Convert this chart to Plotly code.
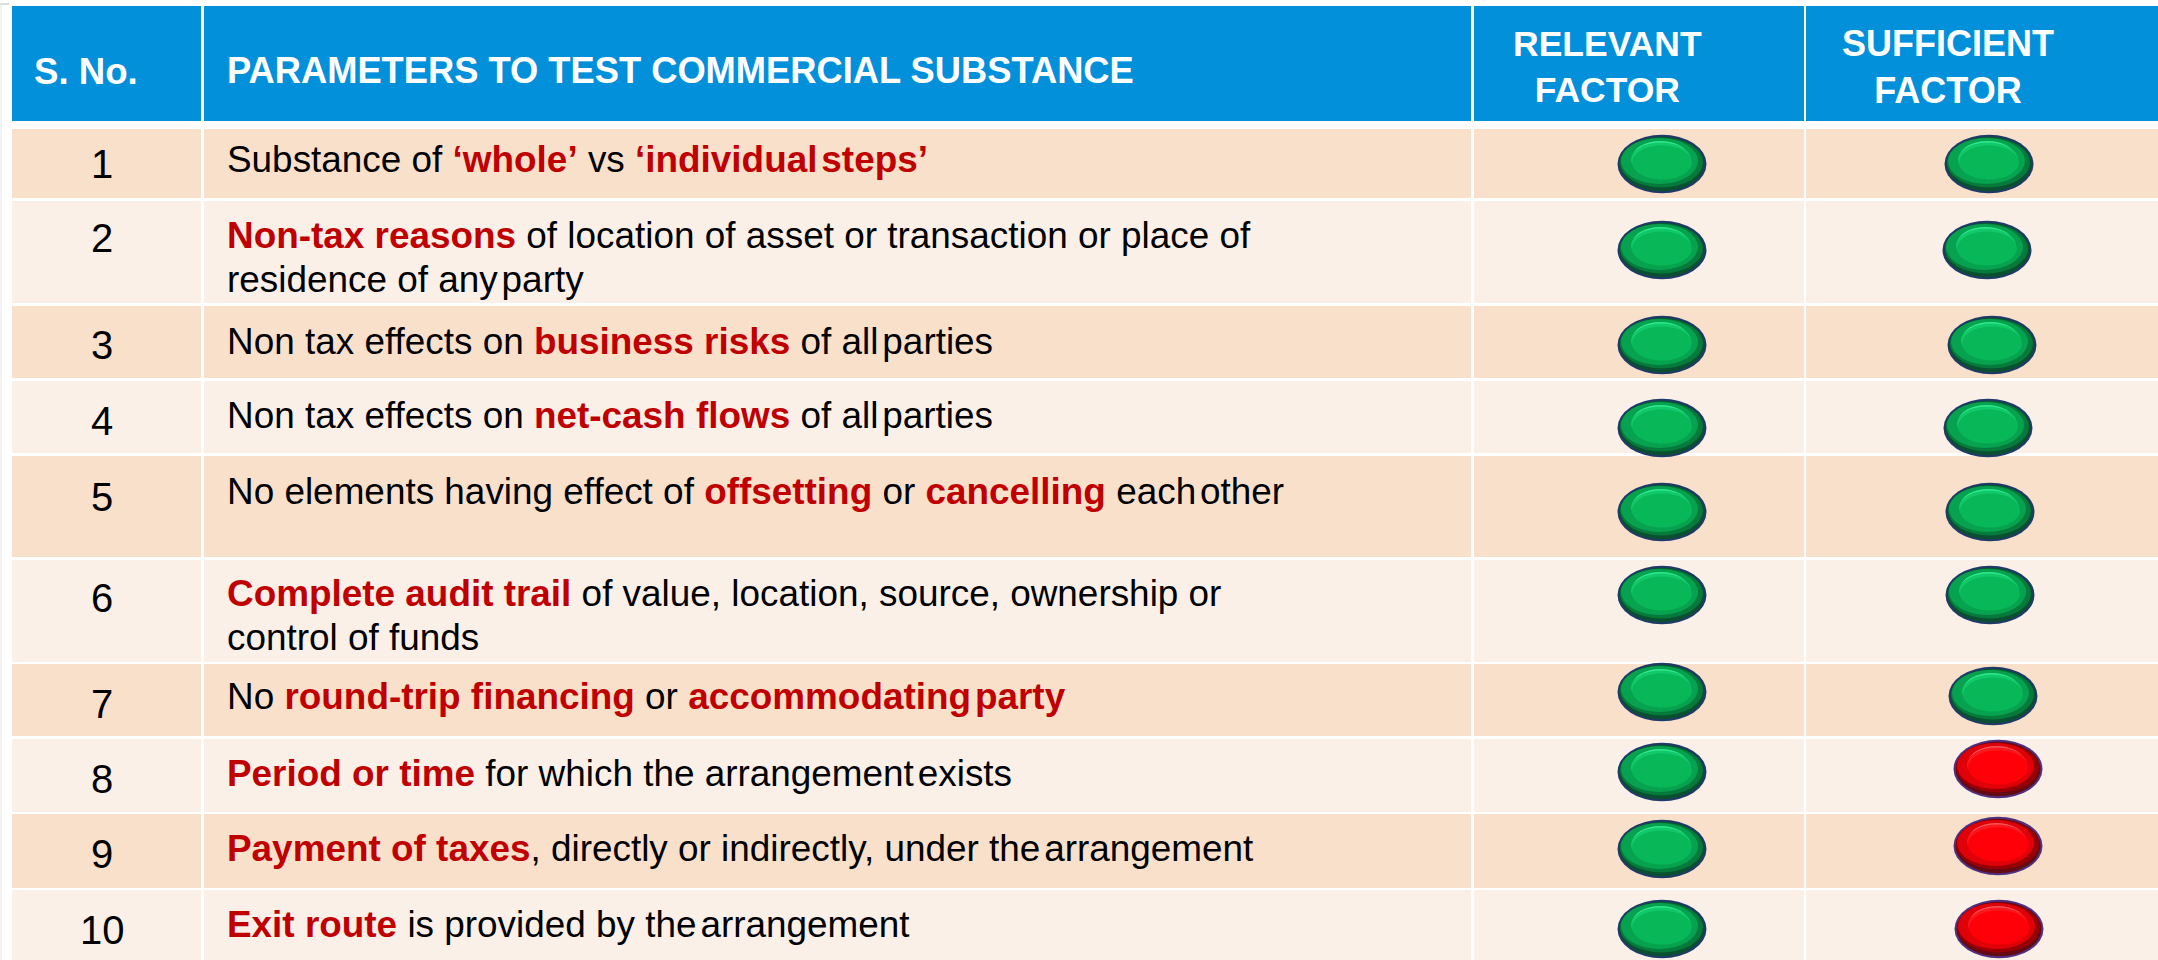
import plotly.graph_objects as go

# ---- table content ----
HEADERS = ["S. No.", "PARAMETERS TO TEST COMMERCIAL SUBSTANCE", "RELEVANT<br>FACTOR", "SUFFICIENT<br>FACTOR"]
S_NO = ["1", "2", "3", "4", "5", "6", "7", "8", "9", "10"]
R = "<b><span style='color:#C00000'>%s</span></b>"
NS = "<span style='font-size:14px'> </span>"   # the reference's tight word gaps
PARAMETERS = [
    "Substance of " + R % ("‘whole’") + " vs " + "<b><span style='color:#C00000'>‘individual</span></b>" + NS + R % "steps’",
    R % "Non-tax reasons" + " of location of asset or transaction or place of<br>residence of any" + NS + "party",
    "Non tax effects on " + R % "business risks" + " of all" + NS + "parties",
    "Non tax effects on " + R % "net-cash flows" + " of all" + NS + "parties",
    "No elements having effect of " + R % "offsetting" + " or " + R % "cancelling" + " each" + NS + "other",
    R % "Complete audit trail" + " of value, location, source, ownership or<br>control of funds",
    "No " + R % "round-trip financing" + " or " + R % "accommodating" + NS + R % "party",
    R % "Period or time" + " for which the arrangement" + NS + "exists",
    R % "Payment of taxes" + ", directly or indirectly, under the" + NS + "arrangement",
    R % "Exit route" + " is provided by the" + NS + "arrangement",
]
RELEVANT = ["yes"] * 10
SUFFICIENT = ["yes"] * 7 + ["no"] * 3

# ---- layout geometry (pixels of the 2158x960 page) ----
COLS = [(12, 201), (204, 1471), (1474, 1804), (1806, 2158)]
HEAD = (6, 121)
ROWS = [(129, 198), (201, 303), (306, 378), (381, 453), (456, 557), (560, 662),
        (664, 736), (739, 812), (814, 888), (890, 960)]
NO_Y = [164, 238, 345, 421, 497, 598, 704, 779, 854, 930]
TEXT_Y = [[159], [235, 279], [341], [415], [491], [593, 637], [696], [773], [848], [924]]
REL_X = [1662] * 10
REL_Y = [164, 250, 345, 428, 512, 595, 692, 772, 849, 929]
SUF_X = [1989, 1987, 1992, 1988, 1990, 1990, 1993, 1998, 1998, 1999]
SUF_Y = [164, 250, 345, 428, 512, 595, 696, 769, 846, 929]

FONT = "Liberation Sans"
C_HEAD, C_ODD, C_EVEN = "#0390DB", "#F8E0CB", "#FAF0E8"

shapes = []
def rect(x0, x1, y0, y1, color):
    shapes.append(dict(type="rect", xref="x", yref="y", x0=x0, x1=x1, y0=y0, y1=y1,
                       fillcolor=color, line_width=0, layer="below"))

for c in COLS:
    rect(c[0], c[1], HEAD[0], HEAD[1], C_HEAD)
    for i, r in enumerate(ROWS):
        rect(c[0], c[1], r[0], r[1], C_ODD if i % 2 == 0 else C_EVEN)

# corner artefacts of the screenshot
shapes.append(dict(type="line", x0=0, x1=9, y0=4, y1=4, xref="x", yref="y", line=dict(color="#BBBBBB", width=1)))
shapes.append(dict(type="line", x0=1, x1=1, y0=4, y1=960, xref="x", yref="y", line=dict(color="#E6E6E6", width=1)))

PALETTE = {
    "yes": dict(rim="#1F3A68", edge="#0A5030", dark="#067A3A", mid="#07A24F", glow="#30EA8E", soft="#12C969", core="#08B858"),
    "no": dict(rim="#503080", edge="#640A12", dark="#980008", mid="#E00008", glow="#F4555A", soft="#F8181E", core="#FF0008"),
}
def ellipse(cx, cy, rx, ry, color):
    shapes.append(dict(type="circle", xref="x", yref="y", x0=cx - rx, x1=cx + rx, y0=cy - ry, y1=cy + ry,
                       fillcolor=color, line_width=0, layer="above"))

def button(cx, cy, kind):
    p = PALETTE[kind]
    ellipse(cx, cy, 44.5, 29.3, p["rim"])
    ellipse(cx, cy, 42.5, 27.3, p["edge"])
    ellipse(cx - 0.5, cy - 1.5, 41.5, 25, p["dark"])
    ellipse(cx - 2.5, cy - 3, 38.5, 23, p["mid"])
    ellipse(cx - 1.5, cy - 7, 28, 16, p["glow"])
    ellipse(cx - 1, cy - 4.5, 30, 17, p["soft"])
    ellipse(cx, cy - 1.5, 30, 17, p["core"])

for x, y, k in zip(REL_X, REL_Y, RELEVANT):
    button(x, y, k)
for x, y, k in zip(SUF_X, SUF_Y, SUFFICIENT):
    button(x, y, k)

anns = []
def text(x, y, s, size, color="#000000", align="left", anchor="left"):
    anns.append(dict(x=x, y=y, xref="x", yref="y", text=s, showarrow=False, xanchor=anchor, yanchor="middle",
                     align=align, font=dict(family=FONT, size=size, color=color)))

text(85.5, 71, "<b>" + HEADERS[0] + "</b>", 36.6, "#FFFFFF", "center", "center")
text(224.5, 70, "<b>" + HEADERS[1] + "</b>", 36.3, "#FFFFFF")
text(1607, 67, "<b>" + HEADERS[2] + "</b>", 35.5, "#FFFFFF", "center", "center")
text(1948, 67, "<b>" + HEADERS[3] + "</b>", 36, "#FFFFFF", "center", "center")

for n, y in zip(S_NO, NO_Y):
    text(102, y, n, 40, "#000000", "center", "center")
for p, ys in zip(PARAMETERS, TEXT_Y):
    for line, y in zip(p.split("<br>"), ys):
        text(224.5, y, line, 36.9)

fig = go.Figure()
# invisible trace keeps the pixel axes alive
fig.add_trace(go.Scatter(x=REL_X + SUF_X, y=REL_Y + SUF_Y, mode="markers",
                         marker=dict(opacity=0), hoverinfo="skip", showlegend=False))
fig.update_layout(
    width=2158, height=960, margin=dict(l=0, r=0, t=0, b=0),
    paper_bgcolor="#FFFFFF", plot_bgcolor="#FFFFFF",
    xaxis=dict(range=[0, 2158], visible=False, fixedrange=True),
    yaxis=dict(range=[960, 0], visible=False, fixedrange=True),
    shapes=shapes, annotations=anns, showlegend=False,
)
fig.write_html("out.html", config=dict(displayModeBar=False),
               post_script="document.body.style.margin='0';document.body.style.overflow='hidden';")
